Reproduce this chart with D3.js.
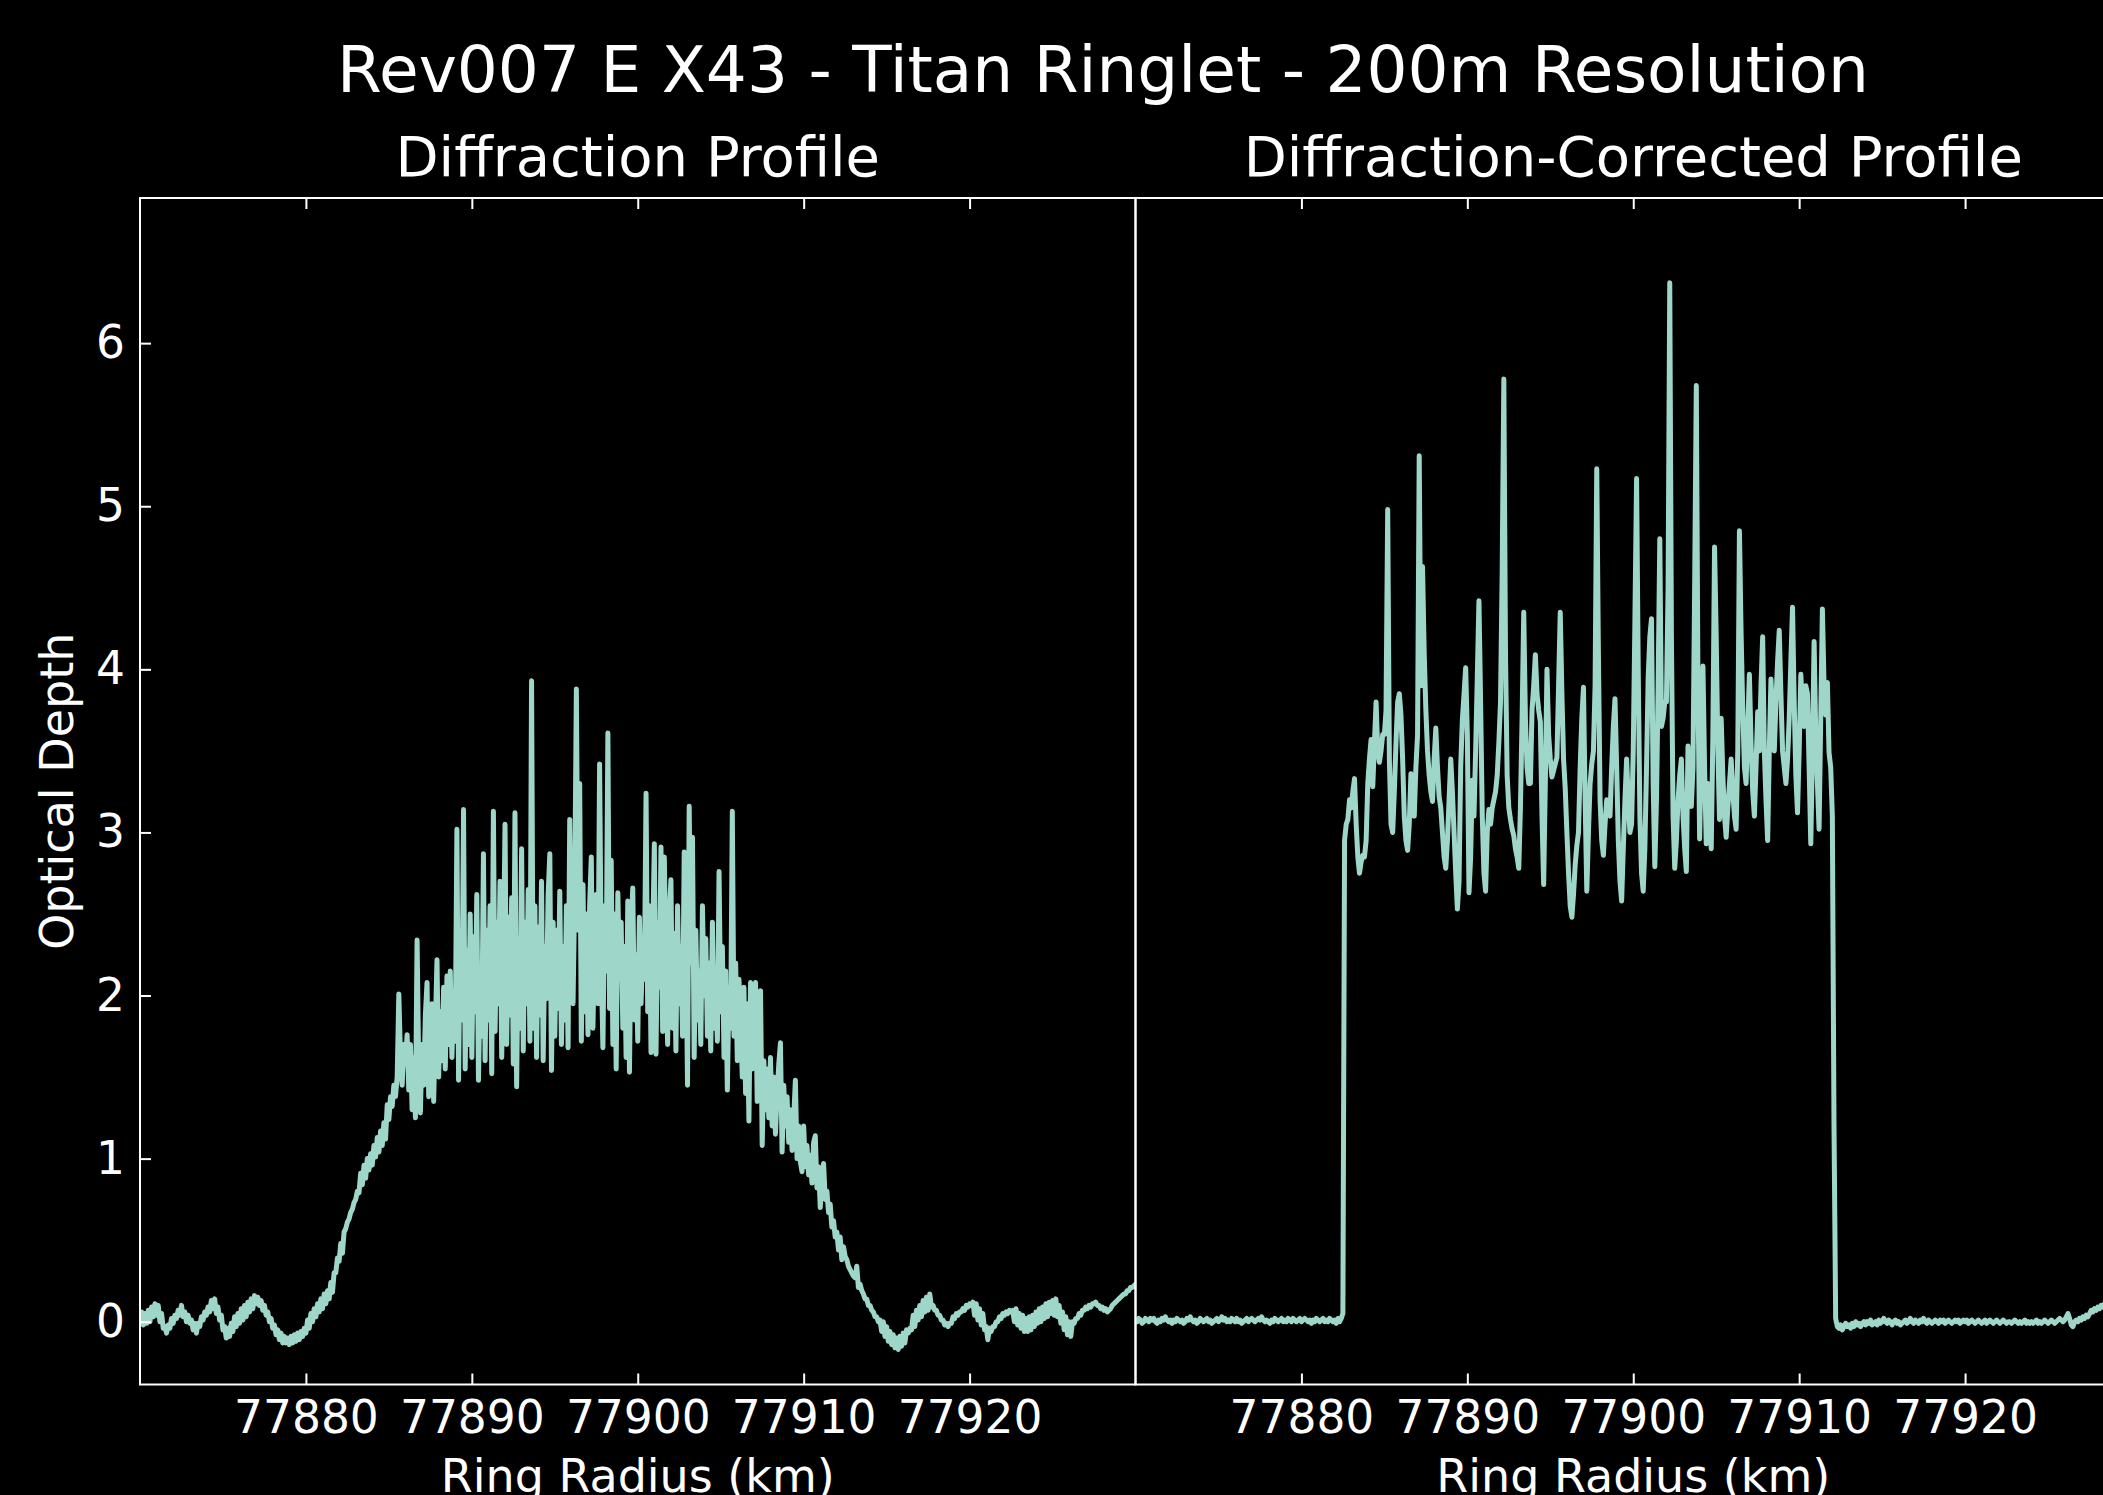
<!DOCTYPE html>
<html>
<head>
<meta charset="utf-8">
<script src="https://cdn.jsdelivr.net/npm/d3@7"></script>
<style>
  html, body { margin: 0; padding: 0; background: #000; }
  svg { display: block; }
  text { font-family: "DejaVu Sans", sans-serif; fill: #fff; }
</style>
</head>
<body>
<svg id="chart" width="2103" height="1495"></svg>
<script>
// ---- data -------------------------------------------------------------
const figureTitle = "Rev007 E X43 - Titan Ringlet - 200m Resolution";
const panelTitles = ["Diffraction Profile", "Diffraction-Corrected Profile"];
const xAxisLabel = "Ring Radius (km)";
const yAxisLabel = "Optical Depth";
const radiusTicks = [77880, 77890, 77900, 77910, 77920];
const depthTicks = [0, 1, 2, 3, 4, 5, 6];
const radiusDomain = [77870, 77930];
const depthDomain = [-0.385, 6.89];

// samples are uniformly spaced in ring radius
const radiusStart = 77870;
const radiusStep = 0.1;

// raw (diffraction-limited) optical depth, one row per km
const diffractionProfile = [
  0.02, 0.06, -0.02, 0.05, -0.01, 0.07, 0.00, 0.09, 0.03, 0.11,
  0.04, 0.10, 0.00, 0.05, -0.04, -0.03, -0.07, -0.02, -0.04, 0.02,
  -0.01, 0.04, 0.02, 0.07, 0.04, 0.10, 0.03, 0.06, 0.00, 0.04,
  -0.01, 0.01, -0.05, -0.01, -0.07, -0.01, -0.03, 0.03, 0.01, 0.06,
  0.04, 0.09, 0.06, 0.13, 0.08, 0.14, 0.05, 0.09, 0.01, 0.04,
  -0.05, -0.03, -0.10, -0.04, -0.09, -0.01, -0.06, 0.03, -0.03, 0.05,
  -0.01, 0.08, 0.01, 0.10, 0.03, 0.12, 0.06, 0.14, 0.08, 0.16,
  0.11, 0.15, 0.10, 0.13, 0.07, 0.10, 0.04, 0.06, 0.00, 0.02,
  -0.04, -0.02, -0.08, -0.05, -0.11, -0.07, -0.13, -0.09, -0.13, -0.10,
  -0.14, -0.09, -0.13, -0.08, -0.12, -0.07, -0.11, -0.06, -0.09, -0.04,
  -0.07, 0.01, -0.04, 0.05, 0.00, 0.08, 0.03, 0.11, 0.06, 0.14,
  0.08, 0.17, 0.11, 0.19, 0.14, 0.24, 0.18, 0.30, 0.30, 0.39,
  0.37, 0.48, 0.42, 0.55, 0.57, 0.61, 0.63, 0.67, 0.69, 0.73,
  0.75, 0.80, 0.79, 0.91, 0.84, 0.96, 0.88, 1.00, 0.93, 1.03,
  0.96, 1.08, 1.01, 1.13, 1.04, 1.17, 1.08, 1.22, 1.12, 1.33,
  1.24, 1.38, 1.32, 1.45, 1.38, 1.50, 2.01, 1.62, 1.45, 1.70,
  1.58, 1.76, 1.42, 1.70, 1.30, 1.62, 1.25, 2.34, 1.55, 1.28,
  1.70, 1.45, 1.88, 2.08, 1.38, 1.62, 1.95, 1.35, 1.80, 2.22,
  1.50, 1.90, 1.60, 2.05, 1.55, 2.12, 1.70, 2.15, 1.62, 1.98,
  1.72, 3.02, 1.48, 2.40, 1.85, 3.14, 1.55, 2.28, 1.70, 2.50,
  1.62, 2.36, 1.90, 2.62, 1.48, 2.05, 1.75, 2.87, 1.60, 2.40,
  1.85, 2.55, 1.52, 3.13, 1.78, 2.45, 1.95, 2.70, 1.62, 2.20,
  3.05, 1.70, 2.48, 1.88, 2.60, 1.58, 3.12, 1.44, 2.35, 1.80,
  2.90, 1.66, 2.45, 1.95, 2.65, 1.72, 3.93, 1.80, 2.55, 1.62,
  2.42, 1.88, 2.70, 1.60, 2.30, 1.98, 2.62, 2.87, 1.54, 2.45,
  1.75, 2.40, 1.92, 2.64, 1.70, 2.30, 1.85, 2.55, 1.68, 3.08,
  2.20, 1.95, 2.62, 3.88, 2.40, 3.30, 1.72, 2.68, 1.90, 2.50,
  1.76, 2.55, 2.85, 1.80, 2.40, 2.62, 1.95, 3.42, 2.20, 1.68,
  2.55, 2.15, 3.61, 1.92, 2.83, 1.70, 2.50, 1.55, 2.63, 2.10,
  2.45, 1.80, 2.30, 1.62, 2.58, 1.53, 2.40, 2.66, 1.85, 2.25,
  1.72, 2.48, 1.95, 2.30, 2.10, 3.24, 1.90, 2.55, 1.65, 2.35,
  2.93, 1.64, 2.45, 2.05, 2.91, 1.78, 2.85, 2.20, 1.70, 2.50,
  2.71, 1.80, 2.38, 1.66, 2.55, 1.95, 2.30, 1.75, 2.88, 2.40,
  1.45, 3.16, 2.20, 2.97, 1.62, 2.40, 1.85, 2.15, 1.70, 2.55,
  2.00, 2.35, 1.75, 2.20, 1.66, 2.45, 1.80, 2.10, 1.72, 2.76,
  1.90, 2.30, 1.62, 2.15, 1.42, 2.05, 1.80, 3.13, 1.75, 2.20,
  1.60, 2.10, 1.85, 1.50, 2.05, 1.40, 1.95, 1.23, 2.08, 1.55,
  1.95, 2.08, 1.35, 1.80, 2.03, 1.08, 1.60, 1.30, 1.55, 1.25,
  1.62, 1.20, 1.50, 1.15, 1.40, 1.58, 1.71, 1.04, 1.45, 1.20,
  1.38, 1.10, 1.30, 1.05, 1.25, 1.48, 1.00, 1.20, 0.98, 0.92,
  1.20, 0.95, 1.08, 0.90, 1.02, 0.85, 1.10, 1.14, 0.82, 0.95,
  0.70, 0.88, 0.97, 0.75, 0.80, 0.67, 0.72, 0.58, 0.62, 0.52,
  0.55, 0.44, 0.52, 0.38, 0.46, 0.40, 0.38, 0.34, 0.32, 0.30,
  0.28, 0.27, 0.34, 0.21, 0.23, 0.19, 0.17, 0.14, 0.14, 0.10,
  0.10, 0.07, 0.06, 0.03, 0.03, 0.00, 0.01, -0.06, 0.00, -0.09,
  -0.03, -0.12, -0.06, -0.14, -0.08, -0.16, -0.10, -0.17, -0.09, -0.15,
  -0.07, -0.13, -0.05, -0.07, -0.04, -0.05, 0.04, -0.03, 0.07, 0.01,
  0.10, 0.03, 0.13, 0.06, 0.15, 0.07, 0.17, 0.09, 0.10, 0.07,
  0.07, 0.04, 0.04, 0.01, 0.01, -0.02, -0.01, -0.03, -0.01, -0.01,
  0.03, 0.02, 0.05, 0.04, 0.06, 0.06, 0.08, 0.07, 0.10, 0.09,
  0.11, 0.10, 0.12, 0.04, 0.11, 0.01, 0.08, -0.02, 0.05, -0.05,
  -0.03, -0.11, -0.04, -0.06, -0.03, -0.03, 0.00, 0.00, 0.03, 0.02,
  0.05, 0.04, 0.06, 0.05, 0.07, 0.06, 0.07, 0.00, 0.08, -0.02,
  0.05, -0.04, 0.04, -0.06, 0.02, -0.06, 0.03, -0.05, 0.04, -0.03,
  0.06, -0.01, 0.08, 0.00, 0.09, 0.02, 0.11, 0.03, 0.12, 0.05,
  0.13, 0.04, 0.14, 0.03, 0.10, -0.01, 0.06, -0.05, 0.03, -0.08,
  0.00, -0.09, 0.00, -0.01, 0.02, 0.02, 0.05, 0.04, 0.07, 0.07,
  0.09, 0.08, 0.10, 0.09, 0.11, 0.11, 0.12, 0.10, 0.10, 0.08,
  0.09, 0.07, 0.08, 0.06, 0.07, 0.08, 0.10, 0.11, 0.12, 0.13,
  0.14, 0.15, 0.16, 0.17, 0.17, 0.19, 0.19, 0.21, 0.21, 0.22,
  0.23
];

// reconstructed (diffraction-corrected) optical depth, one row per km
const correctedProfile = [
  0.01, 0.00, 0.02, 0.01, -0.01, 0.00, 0.02, 0.01, 0.00, 0.02,
  0.01, 0.02, 0.00, -0.01, 0.01, 0.00, 0.02, 0.01, 0.03, 0.01,
  0.00, 0.01, -0.01, 0.01, 0.00, 0.02, 0.01, 0.00, 0.01, -0.01,
  0.00, 0.02, 0.01, 0.03, 0.01, 0.00, 0.01, -0.01, 0.00, 0.02,
  0.01, 0.00, 0.01, 0.02, 0.00, 0.01, -0.01, 0.00, 0.01, 0.02,
  0.00, 0.01, 0.03, 0.01, 0.02, 0.00, 0.01, 0.00, 0.02, 0.01,
  0.00, 0.02, 0.00, 0.01, -0.01, 0.00, 0.01, 0.02, 0.00, 0.01,
  0.02, 0.01, 0.00, 0.01, 0.02, 0.01, 0.03, 0.01, 0.00, 0.01,
  0.00, -0.01, 0.01, 0.00, 0.02, 0.01, 0.00, 0.01, 0.02, 0.00,
  0.01, 0.00, 0.02, 0.01, 0.00, 0.02, 0.01, 0.00, 0.01, 0.02,
  0.00, 0.01, 0.02, 0.01, 0.00, 0.01, -0.01, 0.01, 0.00, 0.02,
  0.01, 0.00, 0.01, 0.02, 0.00, 0.01, 0.00, 0.02, 0.01, 0.00,
  0.01, -0.01, 0.02, 0.00, 0.02, 0.05, 2.95, 3.05, 3.08, 3.20,
  3.15, 3.25, 3.33, 3.05, 2.85, 2.75, 2.82, 2.86, 2.85, 2.95,
  3.30, 3.45, 3.57, 3.28, 3.55, 3.80, 3.50, 3.43, 3.50, 3.60,
  3.60, 3.75, 4.98, 3.45, 3.05, 3.00, 3.25, 3.55, 3.80, 3.85,
  3.72, 3.45, 3.10, 2.95, 2.89, 3.05, 3.36, 3.20, 3.10, 3.40,
  3.60, 5.31, 3.90, 4.63, 4.10, 3.75, 3.50, 3.35, 3.25, 3.19,
  3.45, 3.64, 3.40, 3.22, 3.15, 3.00, 2.85, 2.78, 2.95, 3.20,
  3.45, 3.25, 3.00, 2.75, 2.53, 2.70, 3.40, 3.69, 3.85, 4.01,
  3.60, 2.63, 2.85, 3.32, 3.10, 3.50, 3.95, 4.42, 3.80, 3.10,
  2.75, 2.64, 3.00, 3.14, 3.05, 3.15, 3.20, 3.25, 3.35, 3.55,
  3.80, 4.60, 5.78, 4.10, 3.35, 3.15, 3.08, 3.02, 2.98, 2.90,
  2.85, 2.78, 3.15, 3.70, 4.35, 3.70, 3.40, 3.30, 3.30, 3.75,
  3.90, 4.09, 3.85, 3.75, 3.68, 3.10, 2.68, 3.30, 4.00, 3.60,
  3.45, 3.34, 3.38, 3.42, 3.46, 3.90, 4.35, 3.85, 3.45, 3.27,
  3.00, 2.75, 2.55, 2.48, 2.62, 2.80, 2.92, 3.00, 3.40, 3.70,
  3.89, 3.20, 2.64, 3.00, 3.30, 3.42, 3.50, 3.90, 5.23, 4.10,
  3.20, 2.95, 2.86, 3.05, 3.20, 3.15, 3.10, 3.40, 3.65, 3.82,
  3.40, 2.95, 2.70, 2.58, 2.90, 3.20, 3.45, 3.20, 3.00, 3.05,
  3.50, 4.30, 5.17, 4.00, 3.10, 2.75, 2.64, 2.90, 3.40, 3.95,
  4.20, 4.31, 3.30, 2.79, 3.20, 3.90, 4.80, 3.65, 3.70, 3.80,
  3.80, 4.50, 6.37, 4.20, 3.10, 2.78, 2.95, 3.20, 3.35, 3.45,
  3.10, 2.90, 2.76, 3.53, 3.20, 3.16, 3.40, 4.50, 5.74, 3.90,
  2.96, 3.50, 4.02, 3.40, 2.93, 3.30, 3.05, 2.90, 3.60, 4.75,
  4.20, 3.50, 3.08, 3.70, 3.35, 3.10, 2.97, 3.15, 3.30, 3.45,
  3.25, 3.10, 3.02, 3.50, 4.85, 4.22, 3.75, 3.40, 3.30, 3.65,
  3.97, 3.55, 3.25, 3.10, 3.40, 3.74, 3.50, 3.90, 4.20, 3.50,
  3.20, 2.95, 3.50, 3.94, 3.70, 3.50, 3.80, 4.05, 4.24, 3.85,
  3.50, 3.40, 3.30, 3.45, 3.70, 4.05, 4.38, 3.80, 3.35, 3.12,
  3.50, 3.97, 3.75, 3.65, 3.90, 3.85, 3.40, 2.93, 3.50, 4.17,
  3.60, 3.30, 3.02, 3.70, 4.37, 3.90, 3.72, 3.92, 3.49, 3.40,
  3.10, 1.20, 0.02, -0.03, -0.04, -0.02, -0.05, -0.03, -0.01, -0.03,
  -0.02, -0.04, -0.01, -0.03, 0.00, -0.02, -0.01, -0.03, -0.01, 0.00,
  -0.02, 0.00, -0.01, 0.01, -0.02, -0.01, 0.00, -0.02, 0.01, -0.01,
  0.00, 0.02, 0.00, -0.01, 0.01, 0.00, -0.02, 0.00, 0.01, -0.01,
  0.00, -0.02, -0.01, 0.00, 0.01, -0.01, 0.00, 0.02, 0.00, -0.01,
  0.01, 0.00, -0.01, 0.01, 0.00, 0.02, 0.00, -0.01, 0.01, 0.00,
  -0.01, 0.00, 0.01, 0.00, -0.01, 0.01, 0.00, 0.01, -0.01, 0.00,
  0.01, 0.00, -0.01, 0.00, 0.01, 0.00, 0.01, -0.01, 0.00, 0.01,
  0.00, 0.01, -0.01, 0.00, 0.01, 0.00, -0.01, 0.00, 0.01, 0.00,
  -0.01, 0.00, 0.01, -0.01, 0.00, 0.01, 0.00, -0.01, 0.00, 0.01,
  0.00, -0.01, 0.00, 0.01, 0.00, -0.01, 0.00, 0.00, -0.01, 0.00,
  0.01, 0.00, -0.01, 0.00, -0.01, 0.00, 0.01, -0.01, 0.00, -0.01,
  0.00, -0.01, 0.00, 0.01, -0.01, 0.00, -0.01, 0.00, 0.01, 0.00,
  -0.01, 0.00, 0.01, 0.00, -0.01, 0.00, 0.01, 0.02, 0.01, 0.00,
  0.01, 0.03, 0.05, 0.02, -0.02, -0.03, 0.00, 0.01, 0.00, 0.02,
  0.01, 0.03, 0.02, 0.04, 0.03, 0.05, 0.07, 0.06, 0.08, 0.07,
  0.09, 0.08, 0.10, 0.09, 0.11, 0.10, 0.12, 0.11, 0.13, 0.12,
  0.12, 0.13, 0.12, 0.14, 0.13, 0.15, 0.14, 0.15, 0.14, 0.16,
  0.16
];

const profiles = [diffractionProfile, correctedProfile];

// ---- layout -----------------------------------------------------------
const lineColor = "#9fd6ca";
const tickFont = 45.5;
const plotTop = 198;
const plotBottom = 1384.5;
const panelWidth = 995.5;
const panelLefts = [140, 1135.5];

const svg = d3.select("#chart");
svg.append("rect").attr("width", 2103).attr("height", 1495).attr("fill", "#000");

const y = d3.scaleLinear().domain(depthDomain).range([plotBottom, plotTop]);

svg.append("text")
  .attr("x", 1103).attr("y", 92)
  .attr("text-anchor", "middle")
  .style("font-size", "64.5px")
  .text(figureTitle);

profiles.forEach((values, p) => {
  const left = panelLefts[p];
  const x = d3.scaleLinear().domain(radiusDomain).range([left, left + panelWidth]);
  const g = svg.append("g");

  const clipId = "clip" + p;
  svg.append("clipPath").attr("id", clipId)
    .append("rect")
    .attr("x", left).attr("y", plotTop)
    .attr("width", panelWidth).attr("height", plotBottom - plotTop);

  const line = d3.line()
    .x((d, i) => x(radiusStart + i * radiusStep))
    .y(d => y(d));

  g.append("path")
    .datum(values)
    .attr("clip-path", `url(#${clipId})`)
    .attr("fill", "none")
    .attr("stroke", lineColor)
    .attr("stroke-width", 5)
    .attr("stroke-linejoin", "round")
    .attr("stroke-linecap", "round")
    .attr("d", line);

  // inward ticks on bottom and top
  const bottomAxis = g.append("g")
    .attr("transform", `translate(0,${plotBottom})`)
    .call(d3.axisBottom(x).tickValues(radiusTicks).tickSize(-11).tickPadding(16)
      .tickFormat(d3.format("d")));
  const topAxis = g.append("g")
    .attr("transform", `translate(0,${plotTop})`)
    .call(d3.axisTop(x).tickValues(radiusTicks).tickSize(-11).tickFormat(""));
  const axes = [bottomAxis, topAxis];

  if (p === 0) {
    const leftAxis = g.append("g")
      .attr("transform", `translate(${left},0)`)
      .call(d3.axisLeft(y).tickValues(depthTicks).tickSize(-11).tickPadding(15)
        .tickFormat(d3.format("d")));
    axes.push(leftAxis);
  }

  axes.forEach(a => {
    a.attr("font-family", null).attr("font-size", null).attr("color", "#fff");
    a.select(".domain").remove();
    a.selectAll(".tick line").attr("stroke", "#fff").attr("stroke-width", 2);
    a.selectAll(".tick text").style("font-size", tickFont + "px").attr("fill", "#fff");
  });

  // frame
  g.append("rect")
    .attr("x", left).attr("y", plotTop)
    .attr("width", panelWidth).attr("height", plotBottom - plotTop)
    .attr("fill", "none").attr("stroke", "#fff").attr("stroke-width", 2);

  g.append("text")
    .attr("x", left + panelWidth / 2).attr("y", 176)
    .attr("text-anchor", "middle")
    .style("font-size", "56px")
    .text(panelTitles[p]);

  g.append("text")
    .attr("x", left + panelWidth / 2).attr("y", 1492)
    .attr("text-anchor", "middle")
    .style("font-size", "46px")
    .text(xAxisLabel);
});

svg.append("text")
  .attr("transform", `translate(73,${(plotTop + plotBottom) / 2}) rotate(-90)`)
  .attr("text-anchor", "middle")
  .style("font-size", "46px")
  .text(yAxisLabel);
</script>
</body>
</html>
